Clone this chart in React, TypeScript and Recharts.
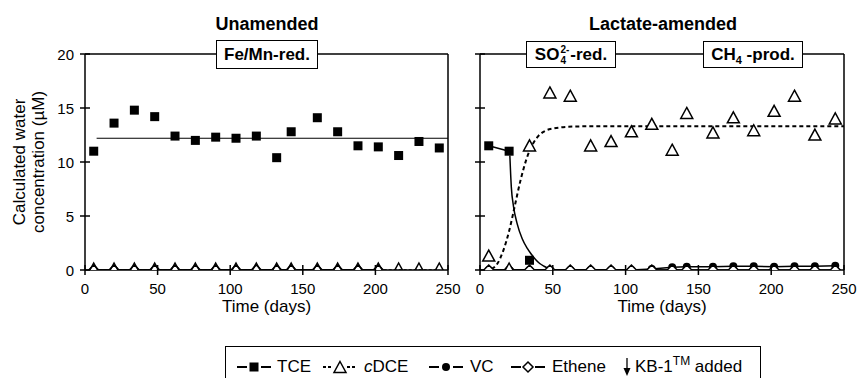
import React from "react";
import { ComposedChart, Line, XAxis, YAxis, ReferenceLine, Label } from "recharts";

const FONT = '"Liberation Sans", Arial, Helvetica, sans-serif';

const xTicks = [0, 50, 100, 150, 200, 250];
const yTicks = [0, 5, 10, 15, 20];

// sampling days (both columns)
const days = [6, 20, 34, 48, 62, 76, 90, 104, 118, 132, 142, 160, 174, 188, 202, 216, 230, 244];

// Unamended column
const unamendedTCE = [11.0, 13.6, 14.8, 14.2, 12.4, 12.0, 12.3, 12.2, 12.4, 10.4, 12.8, 14.1, 12.8, 11.5, 11.4, 10.6, 11.9, 11.3];
const unamendedMeanDays = [8, 250];
const unamendedMean = [12.2, 12.2];
const unamendedCDCE = [0, 0, 0, 0, 0, 0, 0, 0, 0, 0, 0, 0, 0, 0, 0, 0, 0, 0];
const unamendedLateDays = [6, 20, 34, 48, 62, 76, 90, 104, 118, 132, 142, 160, 174, 188, 202];
const unamendedVC = [0, 0, 0, 0, 0, 0, 0, 0, 0, 0, 0, 0, 0, 0, 0];
const unamendedEthene = [0, 0, 0, 0, 0, 0, 0, 0, 0, 0, 0, 0, 0, 0, 0];

// Lactate-amended column
const lactateTCEDays = [6, 20];
const lactateTCE = [11.5, 11.0];
const lactateTCELateDays = [34];
const lactateTCELate = [0.9];
const tceFitDays = [20.5, 21.5, 23, 25.5, 29, 32.5, 35, 38, 41, 44, 48];
const tceFit = [10.6, 7.7, 5.9, 4.3, 2.9, 2.0, 1.5, 1.0, 0.6, 0.35, 0.1];
const lactateCDCE = [1.2, 0, 11.4, 16.3, 16.0, 11.4, 11.8, 12.7, 13.4, 11.0, 14.4, 12.6, 14.0, 12.8, 14.6, 16.0, 12.4, 13.9];
const cdceFitDays = [8, 12, 16, 20, 24, 28, 32, 36, 40, 45, 50, 55, 60, 70, 250];
const cdceFit = [0.1, 0.6, 1.8, 3.6, 6.0, 8.4, 10.3, 11.6, 12.4, 12.9, 13.1, 13.2, 13.25, 13.3, 13.3];
const lactateVC = [0, 0, 0, 0, 0, 0, 0, 0, 0.1, 0.25, 0.3, 0.3, 0.35, 0.35, 0.3, 0.35, 0.35, 0.4];
const lactateEthene = [0, 0, 0, 0, 0, 0, 0, 0, 0, 0, 0, 0, 0, 0, 0, 0, 0, 0];

const pts = (xs: number[], ys: number[]) => xs.map((x, i) => ({ x, y: ys[i] }));

const Square = ({ cx, cy }: any) => <rect x={cx - 4.5} y={cy - 4.5} width={9} height={9} fill="#000" />;
const Triangle = ({ cx, cy, fill = "#fff" }: any) => (
  <path d={`M${cx},${cy - 7}L${cx + 6},${cy + 4}L${cx - 6},${cy + 4}Z`} fill={fill} stroke="#000" strokeWidth={1.5} />
);
const OpenTriangle = (p: any) => <Triangle {...p} fill="none" />;
const Diamond = ({ cx, cy }: any) => (
  <path d={`M${cx},${cy - 5}L${cx + 5},${cy}L${cx},${cy + 5}L${cx - 5},${cy}Z`} fill="#fff" stroke="#000" strokeWidth={1.5} />
);
const Circle = ({ cx, cy }: any) => <circle cx={cx} cy={cy} r={4} fill="#000" />;

const dotOf = (Shape: any) => (p: any) => <Shape key={`d-${p.index}`} cx={p.cx} cy={p.cy} />;

const YTick = ({ x, y, payload, showLabel }: any) => {
  const ax = x + 10;
  return (
    <g>
      <line x1={ax - 5} x2={ax + 5} y1={y} y2={y} stroke="#000" strokeWidth={1.5} />
      {showLabel ? (
        <text x={ax - 11} y={y + 5.5} textAnchor="end" fontSize={15} fontFamily={FONT} fill="#000">
          {payload.value}
        </text>
      ) : null}
    </g>
  );
};

const XTick = ({ x, y, payload }: any) => {
  const ay = y - 10;
  return (
    <g>
      <line x1={x} x2={x} y1={ay - 5} y2={ay + 5} stroke="#000" strokeWidth={1.5} />
      <text x={x} y={ay + 24} textAnchor="middle" fontSize={15} fontFamily={FONT} fill="#000">
        {payload.value}
      </text>
    </g>
  );
};

const YLabel = (props: any) => {
  const vb = props.viewBox;
  const cy = vb.y + vb.height / 2;
  const st = { fontSize: 17, fontFamily: FONT, fill: "#000" };
  return (
    <g>
      <text transform={`translate(${vb.x - 20},${cy}) rotate(-90)`} textAnchor="middle" {...st}>
        Calculated water
      </text>
      <text transform={`translate(${vb.x - 1},${cy}) rotate(-90)`} textAnchor="middle" {...st}>
        concentration (µM)
      </text>
    </g>
  );
};

const H = 325;
const axisLine = { stroke: "#000", strokeWidth: 1.5 };

function Panel({ left, width, margin, showY, children }: any) {
  return (
    <div style={{ position: "absolute", left, top: 0 }}>
      <ComposedChart width={width} height={H} margin={margin}>
        <XAxis
          type="number"
          dataKey="x"
          domain={[0, 250]}
          ticks={xTicks}
          tickSize={5}
          tickMargin={5}
          tickLine={false}
          axisLine={axisLine}
          tick={(p: any) => <XTick {...p} />}
          height={30}
          allowDataOverflow
        >
          <Label value="Time (days)" position="bottom" offset={0} style={{ fontSize: 17, fontFamily: FONT, fill: "#000" }} />
        </XAxis>
        <YAxis
          type="number"
          dataKey="y"
          domain={[0, 20]}
          ticks={yTicks}
          width={40}
          tickSize={5}
          tickMargin={5}
          tickLine={false}
          axisLine={axisLine}
          tick={(p: any) => <YTick {...p} showLabel={showY} />}
          allowDataOverflow
        >
          {showY ? <Label content={YLabel} /> : null}
        </YAxis>
        <ReferenceLine y={20} stroke="#000" strokeWidth={1.5} />
        <ReferenceLine x={250} stroke="#000" strokeWidth={1.5} />
        {children}
      </ComposedChart>
    </div>
  );
}

const common = { isAnimationActive: false, activeDot: false, legendType: "none" as const, dataKey: "y" };

function LegendIcon({ kind }: { kind: string }) {
  const dash = kind === "tri" ? "3 2" : undefined;
  return (
    <svg width={36} height={14} style={{ position: "absolute", top: 0 }}>
      <line x1={1} x2={11} y1={7} y2={7} stroke="#000" strokeWidth={2} strokeDasharray={dash} />
      <line x1={25} x2={35} y1={7} y2={7} stroke="#000" strokeWidth={2} strokeDasharray={dash} />
      {kind === "sq" && <Square cx={18} cy={7} />}
      {kind === "tri" && <Triangle cx={18} cy={8.5} />}
      {kind === "dot" && <Circle cx={18} cy={7} />}
      {kind === "dia" && <Diamond cx={18} cy={7} />}
    </svg>
  );
}

const legendItems = [
  { kind: "sq", icon: 236, text: 277, label: <>TCE</> },
  { kind: "tri", icon: 322, text: 364, label: <><i>c</i>DCE</> },
  { kind: "dot", icon: 428, text: 470, label: <>VC</> },
  { kind: "dia", icon: 510, text: 552, label: <>Ethene</> },
];

export default function App() {
  const boxStyle: React.CSSProperties = {
    position: "absolute",
    boxSizing: "border-box",
    border: "1.5px solid #000",
    background: "#fff",
    fontWeight: "bold",
    fontSize: 17,
    fontFamily: FONT,
    display: "flex",
    alignItems: "center",
    justifyContent: "center",
    color: "#000",
  };
  const titleStyle: React.CSSProperties = {
    position: "absolute",
    top: 14,
    width: 300,
    textAlign: "center",
    fontWeight: "bold",
    fontSize: 18,
    lineHeight: "20px",
    fontFamily: FONT,
    color: "#000",
  };
  return (
    <div style={{ position: "absolute", left: 0, top: 0, width: 859, height: 378, background: "#fff", overflow: "hidden" }}>
      <Panel left={0} width={470} margin={{ top: 54, right: 22, bottom: 25, left: 45 }} showY>
        <Line {...common} data={pts(unamendedLateDays, unamendedVC)} stroke="#000" strokeWidth={1.5} dot={dotOf(Circle)} />
        <Line {...common} data={pts(unamendedLateDays, unamendedEthene)} stroke="#000" strokeWidth={1.5} dot={dotOf(Diamond)} />
        <Line {...common} data={pts(days, unamendedCDCE)} stroke="#000" strokeWidth={1.5} strokeDasharray="3 2" dot={dotOf(OpenTriangle)} />
        <Line {...common} data={pts(unamendedMeanDays, unamendedMean)} stroke="#000" strokeWidth={1.2} dot={false} />
        <Line {...common} data={pts(days, unamendedTCE)} stroke="none" dot={dotOf(Square)} />
      </Panel>
      <Panel left={440} width={419} margin={{ top: 54, right: 15, bottom: 25, left: 0 }} showY={false}>
        <Line {...common} type="monotone" data={pts(cdceFitDays, cdceFit)} stroke="#000" strokeWidth={2} strokeDasharray="4 3" dot={false} />
        <Line {...common} type="monotone" data={pts(tceFitDays, tceFit)} stroke="#000" strokeWidth={1.5} dot={false} />
        <Line {...common} data={pts(days, lactateVC)} stroke="#000" strokeWidth={1.5} dot={dotOf(Circle)} />
        <Line {...common} data={pts(days, lactateEthene)} stroke="#000" strokeWidth={1.5} dot={dotOf(Diamond)} />
        <Line {...common} data={pts(days, lactateCDCE)} stroke="none" dot={dotOf(Triangle)} />
        <Line {...common} data={pts(lactateTCEDays, lactateTCE)} stroke="#000" strokeWidth={1.5} dot={dotOf(Square)} />
        <Line {...common} data={pts(lactateTCELateDays, lactateTCELate)} stroke="none" dot={dotOf(Square)} />
      </Panel>

      <div style={{ ...titleStyle, left: 117 }}>Unamended</div>
      <div style={{ ...titleStyle, left: 513 }}>Lactate-amended</div>

      <div style={{ ...boxStyle, left: 216, top: 40, width: 102, height: 29 }}>Fe/Mn-red.</div>
      <div style={{ ...boxStyle, left: 526, top: 41, width: 90, height: 27 }}>
        SO
        <span style={{ display: "inline-flex", flexDirection: "column", fontSize: 10, lineHeight: "11px", margin: "0 1px" }}>
          <span>2-</span>
          <span>4</span>
        </span>
        -red.
      </div>
      <div style={{ ...boxStyle, left: 703, top: 41, width: 100, height: 27 }}>
        CH<span style={{ fontSize: 11, position: "relative", top: 5 }}>4</span>&nbsp;-prod.
      </div>

      <div
        style={{
          position: "absolute",
          left: 225,
          top: 346,
          width: 536,
          height: 40,
          boxSizing: "border-box",
          border: "1.5px solid #000",
          fontFamily: FONT,
          fontSize: 17,
          color: "#000",
        }}
      >
        {legendItems.map((it, i) => (
          <React.Fragment key={i}>
            <div style={{ position: "absolute", left: it.icon - 226, top: 13 }}>
              <LegendIcon kind={it.kind} />
            </div>
            <div style={{ position: "absolute", left: it.text - 226, top: 10, lineHeight: "19px" }}>{it.label}</div>
          </React.Fragment>
        ))}
        <svg width={10} height={18} style={{ position: "absolute", left: 622 - 226, top: 11 }}>
          <line x1={5} x2={5} y1={0} y2={13} stroke="#000" strokeWidth={1.3} />
          <path d="M1.5,10 L8.5,10 L5,18 Z" fill="#000" />
        </svg>
        <div style={{ position: "absolute", left: 635 - 226, top: 10, lineHeight: "19px", whiteSpace: "nowrap" }}>
          KB-1<sup style={{ fontSize: 12, lineHeight: 0 }}>TM</sup> added
        </div>
      </div>
    </div>
  );
}
